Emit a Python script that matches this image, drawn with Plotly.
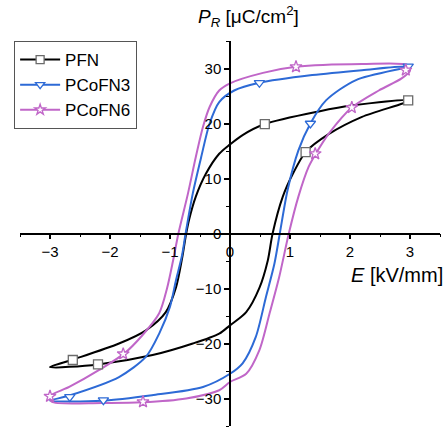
import plotly.graph_objects as go

# ---------------- data ----------------
series_names = ["PFN", "PCoFN3", "PCoFN6"]

# PFN loop: descending branch (E: +3 -> -3) then ascending branch (E: -3 -> +3)
pfn_E = [3.0, 2.05, 1.48, 0.58, 0.21, 0.0, -0.18, -0.4, -0.57, -0.68, -0.73, -0.8, -0.9, -1.07, -1.4, -1.85, -2.61, -3.0,
         -2.2, -1.29, -0.62, -0.18, 0.0, 0.27, 0.49, 0.63, 0.71, 0.88, 1.05, 1.26, 1.65, 2.2, 3.0]
pfn_P = [24.2, 23.3, 22.2, 19.9, 17.9, 16.2, 14.5, 10.9, 6.7, 2.6, 0.0, -4.6, -9.8, -14.3, -17.6, -20.0, -22.9, -24.3,
         -23.8, -22.1, -20.0, -18.2, -16.7, -14.3, -9.9, -4.9, 0.0, 6.7, 10.9, 14.8, 18.1, 21.2, 24.2]

pcofn3_E = [3.0, 2.2, 1.37, 0.49, 0.07, -0.18, -0.34, -0.48, -0.62, -0.74, -0.8, -0.9, -1.0, -1.18, -1.4, -1.85, -2.69, -3.0,
            -2.13, -1.3, -0.45, 0.0, 0.21, 0.43, 0.6, 0.74, 0.83, 0.96, 1.14, 1.34, 1.6, 2.1, 3.0]
pcofn3_P = [30.4, 29.7, 28.8, 27.4, 26.0, 23.9, 20.0, 13.9, 7.3, 0.0, -4.0, -8.5, -13.3, -18.2, -22.4, -26.1, -29.5, -30.4,
            -30.4, -29.4, -27.9, -25.5, -23.6, -18.8, -11.5, -5.5, 0.0, 7.9, 15.1, 20.0, 24.2, 27.9, 30.4]

pcofn6_E = [2.97, 2.2, 1.1, 0.55, 0.0, -0.18, -0.34, -0.45, -0.57, -0.7, -0.86, -0.95, -1.05, -1.18, -1.46, -1.76, -2.18, -2.68, -3.0,
            -2.97, -2.13, -1.46, -0.73, -0.18, 0.0, 0.27, 0.49, 0.66, 0.82, 0.98, 1.14, 1.31, 1.43, 1.65, 2.03, 2.48, 2.86, 3.0, 2.97]
pcofn6_P = [30.6, 30.8, 30.3, 29.2, 27.3, 26.0, 23.0, 19.4, 13.9, 7.3, 0.0, -5.0, -10.0, -14.5, -18.5, -21.8, -24.8, -27.9, -29.6,
            -30.6, -30.8, -30.7, -30.0, -28.5, -27.0, -25.5, -21.2, -14.5, -7.9, 0.0, 6.7, 12.1, 14.5, 18.2, 22.9, 26.0, 28.2, 29.6, 30.6]

# marker positions (sparse symbols on the curves)
pfn_mE = [2.97, 0.58, 1.26, -2.62, -2.2]
pfn_mP = [24.2, 19.9, 14.8, -23.0, -23.8]
pcofn3_mE = [2.97, 0.49, 1.34, -2.67, -2.11]
pcofn3_mP = [30.4, 27.4, 20.0, -29.7, -30.3]
pcofn6_mE = [2.93, 1.1, 2.03, 1.42, -1.78, -3.0, -1.45]
pcofn6_mP = [29.7, 30.3, 22.9, 14.5, -21.9, -29.6, -30.6]

x_ticks = [-3, -2, -1, 0, 1, 2, 3]
y_ticks = [-30, -20, -10, 0, 10, 20, 30]

# ---------------- styling ----------------
colors = ["#000000", "#2D6AD6", "#C066C8"]
edge_colors = ["#6b6b6b", "#2D6AD6", "#C066C8"]
symbols = ["square", "triangle-down", "star"]
FONT = "Liberation Sans, Arial, sans-serif"

loops = [(pfn_E, pfn_P), (pcofn3_E, pcofn3_P), (pcofn6_E, pcofn6_P)]
marks = [(pfn_mE, pfn_mP), (pcofn3_mE, pcofn3_mP), (pcofn6_mE, pcofn6_mP)]

fig = go.Figure()
for i, name in enumerate(series_names):
    E, P = loops[i]
    fig.add_trace(go.Scatter(x=E, y=P, mode="lines", showlegend=False,
                             line=dict(color=colors[i], width=2, shape="spline", smoothing=0.8),
                             hoverinfo="skip"))
for i, name in enumerate(series_names):
    mE, mP = marks[i]
    fig.add_trace(go.Scatter(x=mE, y=mP, mode="markers", showlegend=False,
                             marker=dict(symbol=symbols[i], size=9,
                                         color="white", line=dict(color=edge_colors[i], width=1.3))))
for i, name in enumerate(series_names):
    fig.add_trace(go.Scatter(x=[None], y=[None], mode="lines+markers", name=name,
                             line=dict(color=colors[i], width=2),
                             marker=dict(symbol=symbols[i], size=8,
                                         color="white", line=dict(color=edge_colors[i], width=1.3))))

axis_common = dict(showgrid=False, zeroline=False, showline=True, linecolor="black", linewidth=1.5,
                   ticks="outside", tickcolor="black", tickwidth=1.5, ticklen=5, automargin=False,
                   tickfont=dict(family=FONT, size=15, color="black"))

fig.update_layout(
    width=447, height=429,
    margin=dict(l=20, r=7, t=41, b=3),
    paper_bgcolor="white", plot_bgcolor="white",
    font=dict(family=FONT, color="black"),
    xaxis=dict(range=[-3.5, 3.5], anchor="free", position=0.5, tickvals=x_ticks,
               minor=dict(dtick=0.5, ticks="outside", ticklen=3, tickcolor="black", tickwidth=1.2),
               **axis_common),
    yaxis=dict(range=[-35, 35], anchor="free", position=0.5, tickvals=y_ticks,
               minor=dict(dtick=5, ticks="outside", ticklen=3, tickcolor="black", tickwidth=1.2),
               **axis_common),
    legend=dict(x=-0.014, y=1.0, xanchor="left", yanchor="top",
                bordercolor="#555555", borderwidth=1, bgcolor="white",
                font=dict(family=FONT, size=17, color="black"), tracegroupgap=0,
                itemwidth=40),
    annotations=[
        dict(text="<i>P</i><sub><i>R</i></sub> [μC/cm<sup>2</sup>]", xref="paper", yref="paper",
             x=(196 - 20) / 420, y=1 + (41 - 16) / 385, xanchor="left", yanchor="middle",
             showarrow=False, font=dict(family=FONT, size=19, color="black")),
        dict(text="<i>E</i> [kV/mm]", xref="paper", yref="paper",
             x=(445 - 20) / 420, y=1 - (275 - 41) / 385, xanchor="right", yanchor="middle",
             showarrow=False, font=dict(family=FONT, size=20, color="black")),
    ],
)

fig.write_html("out.html", config={"displayModeBar": False},
               post_script="document.body.style.margin='0px';")
